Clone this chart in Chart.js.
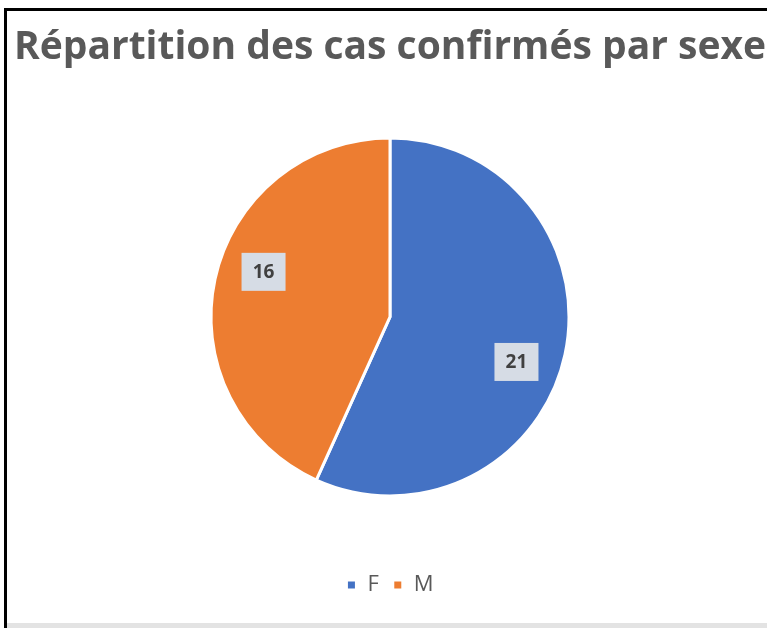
<!DOCTYPE html>
<html>
<head>
<meta charset="utf-8">
<script src="https://cdn.jsdelivr.net/npm/chart.js@4/dist/chart.umd.min.js"></script>
<style>
  html, body { margin: 0; padding: 0; background: #fff; }
  #wrap { position: absolute; left: 0; top: 0; width: 767px; height: 628px; }
  #frame { position: absolute; left: 4px; top: 8px; width: 800px; height: 620px;
           border-left: 3px solid #000; border-top: 3px solid #000; pointer-events: none; }
  #foot { position: absolute; left: 7px; top: 623px; width: 760px; height: 5px; background: #e3e3e3; }
</style>
</head>
<body>
<div id="wrap"><canvas id="chart" width="767" height="628"></canvas></div>
<div id="frame"></div>
<div id="foot"></div>
<script>
let titleText = 'Répartition des cas confirmés par sexe';
let categories = ['F', 'M'];
let values = [21, 16];
let colors = ['#4472C4', '#ED7D31'];

// labels in grey boxes, a bit past the middle of each slice
const boxLabels = {
    id: 'boxLabels',
    afterDatasetsDraw(chart) {
        let ctx = chart.ctx;
        let meta = chart.getDatasetMeta(0);
        ctx.save();
        meta.data.forEach((arc, i) => {
            let p = arc.getProps(['x', 'y', 'startAngle', 'endAngle', 'outerRadius'], true);
            let mid = (p.startAngle + p.endAngle) / 2 + 0.13;
            let r = p.outerRadius * 0.75;
            let cx = p.x + Math.cos(mid) * r;
            let cy = p.y + Math.sin(mid) * r;
            ctx.fillStyle = '#D6DCE5';
            ctx.fillRect(cx - 22, cy - 19, 44, 38);
            ctx.fillStyle = '#404040';
            ctx.font = 'bold 19px "Open Sans"';
            ctx.textAlign = 'center';
            ctx.textBaseline = 'middle';
            ctx.fillText(String(values[i]), cx, cy + 1);
        });
        ctx.restore();
    }
};

new Chart(document.getElementById('chart').getContext('2d'), {
    type: 'pie',
    data: {
        labels: categories,
        datasets: [{
            data: values,
            backgroundColor: colors,
            borderColor: '#ffffff',
            borderWidth: 3,
            radius: 179
        }]
    },
    options: {
        responsive: false,
        animation: false,
        layout: { padding: { left: 13, right: 0, top: 0, bottom: 22 } },
        plugins: {
            title: {
                display: true,
                text: titleText,
                color: '#595959',
                font: { family: '"Open Sans"', weight: 'bold', size: 39 },
                padding: { top: 24, bottom: 3 }
            },
            legend: {
                position: 'bottom',
                labels: {
                    color: '#595959',
                    font: { family: '"Open Sans"', size: 22 },
                    boxWidth: 10,
                    boxHeight: 10,
                    padding: 14
                }
            },
            tooltip: { enabled: false }
        }
    },
    plugins: [boxLabels]
});
</script>
</body>
</html>
